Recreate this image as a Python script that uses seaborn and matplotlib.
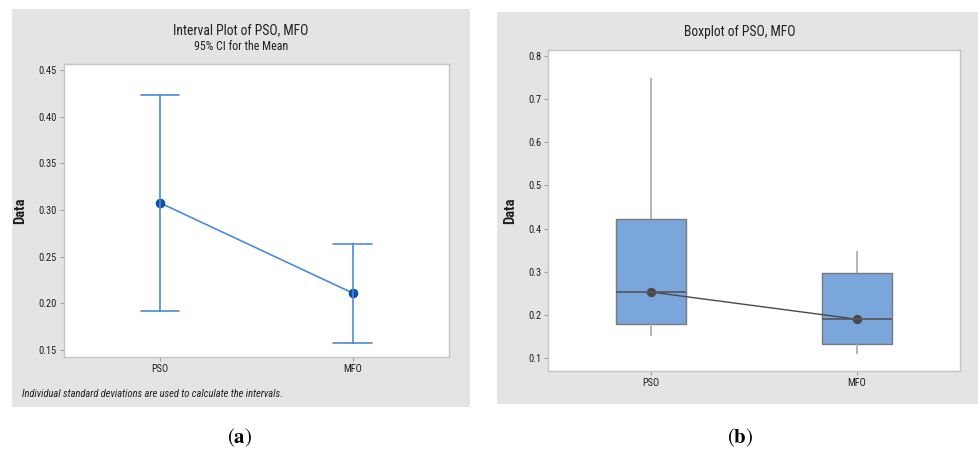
import matplotlib
matplotlib.use("Agg")
import matplotlib.pyplot as plt
from matplotlib.patches import Rectangle
import pandas as pd
import seaborn as sns

# Groups
algorithms = ["PSO", "MFO"]

# 95% CI for the mean (lower / upper bounds); the mean is the midpoint
ci_lower = [0.192, 0.158]
ci_upper = [0.423, 0.264]

# Five-number summaries: min, Q1, median, Q3, max
pso_summary = [0.150, 0.180, 0.253, 0.423, 0.750]
mfo_summary = [0.110, 0.133, 0.190, 0.297, 0.347]

interval_ticks = [0.15, 0.20, 0.25, 0.30, 0.35, 0.40, 0.45]
box_ticks = [0.1, 0.2, 0.3, 0.4, 0.5, 0.6, 0.7, 0.8]

sns.set_theme(style="white")
plt.rcParams["font.family"] = ["Roboto Condensed", "DejaVu Sans"]
plt.rcParams["mathtext.fontset"] = "stix"

W, H = 979, 455
fig = plt.figure(figsize=(W / 100, H / 100), dpi=100)
fig.patch.set_facecolor("white")


def fx(px):
    return px / W


def fy(py):
    return 1 - py / H


PANEL = "#e4e4e4"
for (x0, y0, x1, y1) in [(12, 9, 470, 407), (497, 12, 979, 404)]:
    fig.add_artist(Rectangle((fx(x0), fy(y1)), fx(x1 - x0), (y1 - y0) / H,
                             transform=fig.transFigure, facecolor=PANEL,
                             edgecolor="none", zorder=-5))

TXT = "#1f1f1f"


def style_axes(ax, ticks, fmt):
    ax.set_facecolor("white")
    for s in ax.spines.values():
        s.set_color("#c4c4c4")
        s.set_linewidth(1.0)
    ax.set_yticks(ticks)
    ax.set_yticklabels([fmt.format(t) for t in ticks])
    ax.tick_params(axis="both", which="both", direction="out", length=3,
                   width=0.8, color="#a0a0a0", labelsize=7.5,
                   labelcolor=TXT, pad=2, left=True, bottom=True)
    ax.set_xlabel("")
    ax.set_ylabel("Data", fontsize=10.5, fontweight="bold", color=TXT,
                  labelpad=8)
    ax.set_xlim(-0.5, 1.5)


# ---------------- (a) interval plot ----------------
ci_df = pd.DataFrame({
    "Algorithm": algorithms + algorithms,
    "Data": ci_lower + ci_upper,
})
ax1 = fig.add_axes([fx(64), fy(357), fx(385), 293 / H])
ax1.set_zorder(1)
sns.pointplot(data=ci_df, x="Algorithm", y="Data", order=algorithms,
              estimator="mean", errorbar=("pi", 100), capsize=0.2,
              color="#4a8cdb", markers="o", markersize=6,
              markerfacecolor="#0d4fa3", markeredgecolor="#0d4fa3",
              linewidth=1.2, err_kws={"linewidth": 1.2, "color": "#4a8cdb"},
              ax=ax1)
ax1.set_ylim(0.1425, 0.4564)
style_axes(ax1, interval_ticks, "{:.2f}")

fig.text(fx(241), fy(30), "Interval Plot of PSO, MFO", ha="center",
         va="center", fontsize=9.8, color=TXT)
fig.text(fx(241), fy(47), "95% CI for the Mean", ha="center", va="center",
         fontsize=8.6, color=TXT)
fig.text(fx(22), fy(394),
         "Individual standard deviations are used to calculate the intervals.",
         ha="left", va="center", fontsize=7.6, style="italic", color=TXT)

# ---------------- (b) boxplot ----------------
box_df = pd.DataFrame({
    "Algorithm": ["PSO"] * len(pso_summary) + ["MFO"] * len(mfo_summary),
    "Data": pso_summary + mfo_summary,
})
ax2 = fig.add_axes([fx(548), fy(371), fx(412), 321 / H])
ax2.set_zorder(1)
sns.boxplot(data=box_df, x="Algorithm", y="Data", order=algorithms,
            whis=(0, 100), width=0.335, color="#7ba6db", saturation=1,
            linecolor="#7a7a7a", linewidth=1.0, showcaps=False,
            whiskerprops={"color": "#a8a8a8", "linewidth": 1.2},
            medianprops={"color": "#555555", "linewidth": 1.2},
            ax=ax2)
sns.pointplot(data=box_df, x="Algorithm", y="Data", order=algorithms,
              estimator="median", errorbar=None, color="#4a4a4a",
              markers="o", markersize=6, linewidth=1.0, ax=ax2)
ax2.set_ylim(0.07, 0.814)
style_axes(ax2, box_ticks, "{:.1f}")

fig.text(fx(740), fy(32), "Boxplot of PSO, MFO", ha="center", va="center",
         fontsize=9.8, color=TXT)

# Panel captions
fig.text(fx(240), fy(438), r"$(\mathbf{a})$", ha="center", va="center",
         fontsize=15, color="black")
fig.text(fx(740), fy(438), r"$(\mathbf{b})$", ha="center", va="center",
         fontsize=15, color="black")

fig.savefig("out.png", dpi=100)
